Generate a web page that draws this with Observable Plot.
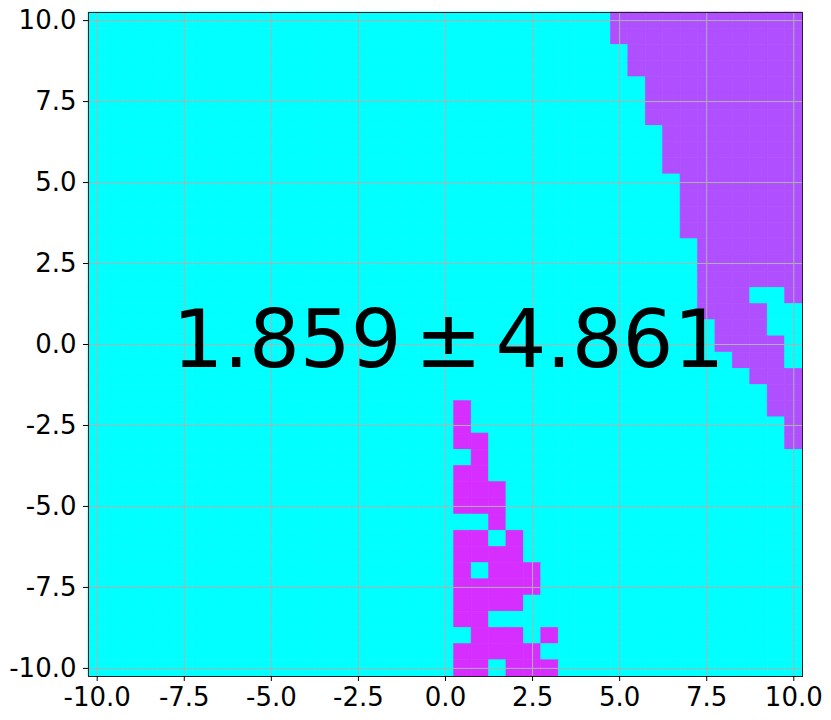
<!DOCTYPE html>
<html><head><meta charset="utf-8">
<script src="https://cdn.jsdelivr.net/npm/d3@7"></script>
<script src="https://cdn.jsdelivr.net/npm/@observablehq/plot@0.6"></script>
<style>body{margin:0;background:#fff}</style>
</head><body><div id="chart"></div>
<script>
// grid cell centres (x left→right, y top→bottom)
const xCenters = [-10,-9.5,-9,-8.5,-8,-7.5,-7,-6.5,-6,-5.5,-5,-4.5,-4,-3.5,-3,-2.5,-2,-1.5,-1,-0.5,0,0.5,1,1.5,2,2.5,3,3.5,4,4.5,5,5.5,6,6.5,7,7.5,8,8.5,9,9.5,10];
const yCenters = [10,9.5,9,8.5,8,7.5,7,6.5,6,5.5,5,4.5,4,3.5,3,2.5,2,1.5,1,0.5,0,-0.5,-1,-1.5,-2,-2.5,-3,-3.5,-4,-4.5,-5,-5.5,-6,-6.5,-7,-7.5,-8,-8.5,-9,-9.5,-10];
const cellHalf = 0.25;
// class of each cell, one string per row (top to bottom), blocks of 10 columns
const classRows = [
  ".......... .......... .......... PPPPPPPPPP P",
  ".......... .......... .......... PPPPPPPPPP P",
  ".......... .......... .......... .PPPPPPPPP P",
  ".......... .......... .......... .PPPPPPPPP P",
  ".......... .......... .......... ..PPPPPPPP P",
  ".......... .......... .......... ..PPPPPPPP P",
  ".......... .......... .......... ..PPPPPPPP P",
  ".......... .......... .......... ...PPPPPPP P",
  ".......... .......... .......... ...PPPPPPP P",
  ".......... .......... .......... ...PPPPPPP P",
  ".......... .......... .......... ....PPPPPP P",
  ".......... .......... .......... ....PPPPPP P",
  ".......... .......... .......... ....PPPPPP P",
  ".......... .......... .......... ....PPPPPP P",
  ".......... .......... .......... .....PPPPP P",
  ".......... .......... .......... .....PPPPP P",
  ".......... .......... .......... .....PPPPP P",
  ".......... .......... .......... .....PPP.. P",
  ".......... .......... .......... .....PPPP. .",
  ".......... .......... .......... ......PPP. .",
  ".......... .......... .......... ......PPPP .",
  ".......... .......... .......... .......PPP .",
  ".......... .......... .......... ........PP P",
  ".......... .......... .......... .........P P",
  ".......... .......... .M........ .........P P",
  ".......... .......... .M........ .......... P",
  ".......... .......... .MM....... .......... P",
  ".......... .......... ..M....... .......... .",
  ".......... .......... .MM....... .......... .",
  ".......... .......... .MMM...... .......... .",
  ".......... .......... .MMM...... .......... .",
  ".......... .......... ...M...... .......... .",
  ".......... .......... .MM.M..... .......... .",
  ".......... .......... .MMMM..... .......... .",
  ".......... .......... .M.MMM.... .......... .",
  ".......... .......... .MMMMM.... .......... .",
  ".......... .......... .MMMM..... .......... .",
  ".......... .......... .MM....... .......... .",
  ".......... .......... ..MMM.M... .......... .",
  ".......... .......... .MMMMM.... .......... .",
  ".......... .......... .MM.MMM... .......... ."
];
const classColors = {".": "#00ffff", "P": "#af4fff", "M": "#d62eff"};
const tickValues = [-10, -7.5, -5, -2.5, 0, 2.5, 5, 7.5, 10];
const tickLabels = ["-10.0", "-7.5", "-5.0", "-2.5", "0.0", "2.5", "5.0", "7.5", "10.0"];
const annotation = ["1.859\u2006±\u20064.861"];

const cells = [];
classRows.forEach((row, r) => {
  row.replace(/ /g, "").split("").forEach((k, c) => {
    cells.push({x: xCenters[c], y: yCenters[r], color: classColors[k]});
  });
});

const chart = Plot.plot({
  width: 831, height: 720,
  marginLeft: 88, marginRight: 29, marginTop: 12, marginBottom: 44,
  x: {domain: [-10.25, 10.25]},
  y: {domain: [-10.25, 10.25]},
  color: {type: "identity"},
  style: {fontFamily: "DejaVu Sans", fontSize: "26px", color: "black", background: "white"},
  marks: [
    Plot.rect(cells, {x1: d => d.x - cellHalf, x2: d => d.x + cellHalf, y1: d => d.y - cellHalf, y2: d => d.y + cellHalf,
      fill: "color", stroke: "color", strokeWidth: 0.6, inset: 0}),
    Plot.gridX(tickValues, {stroke: "#b0b0b0", strokeOpacity: 1, strokeWidth: 1}),
    Plot.gridY(tickValues, {stroke: "#b0b0b0", strokeOpacity: 1, strokeWidth: 1}),
    Plot.frame({stroke: "#222", strokeWidth: 1}),
    Plot.axisX(tickValues, {tickFormat: d => tickLabels[tickValues.indexOf(d)], tickSize: 5, tickPadding: 6, fontSize: 26, label: null, stroke: "black"}),
    Plot.axisY(tickValues, {tickFormat: d => tickLabels[tickValues.indexOf(d)], tickSize: 5, tickPadding: 7, fontSize: 26, label: null, stroke: "black"}),
    Plot.text(annotation, {x: () => 0, y: () => 0, text: d => d, fontSize: 80, fontFamily: "DejaVu Sans", fill: "black", lineAnchor: "bottom", dy: 22.5, dx: 3})
  ]
});
document.getElementById("chart").appendChild(chart);
</script>
</body></html>
